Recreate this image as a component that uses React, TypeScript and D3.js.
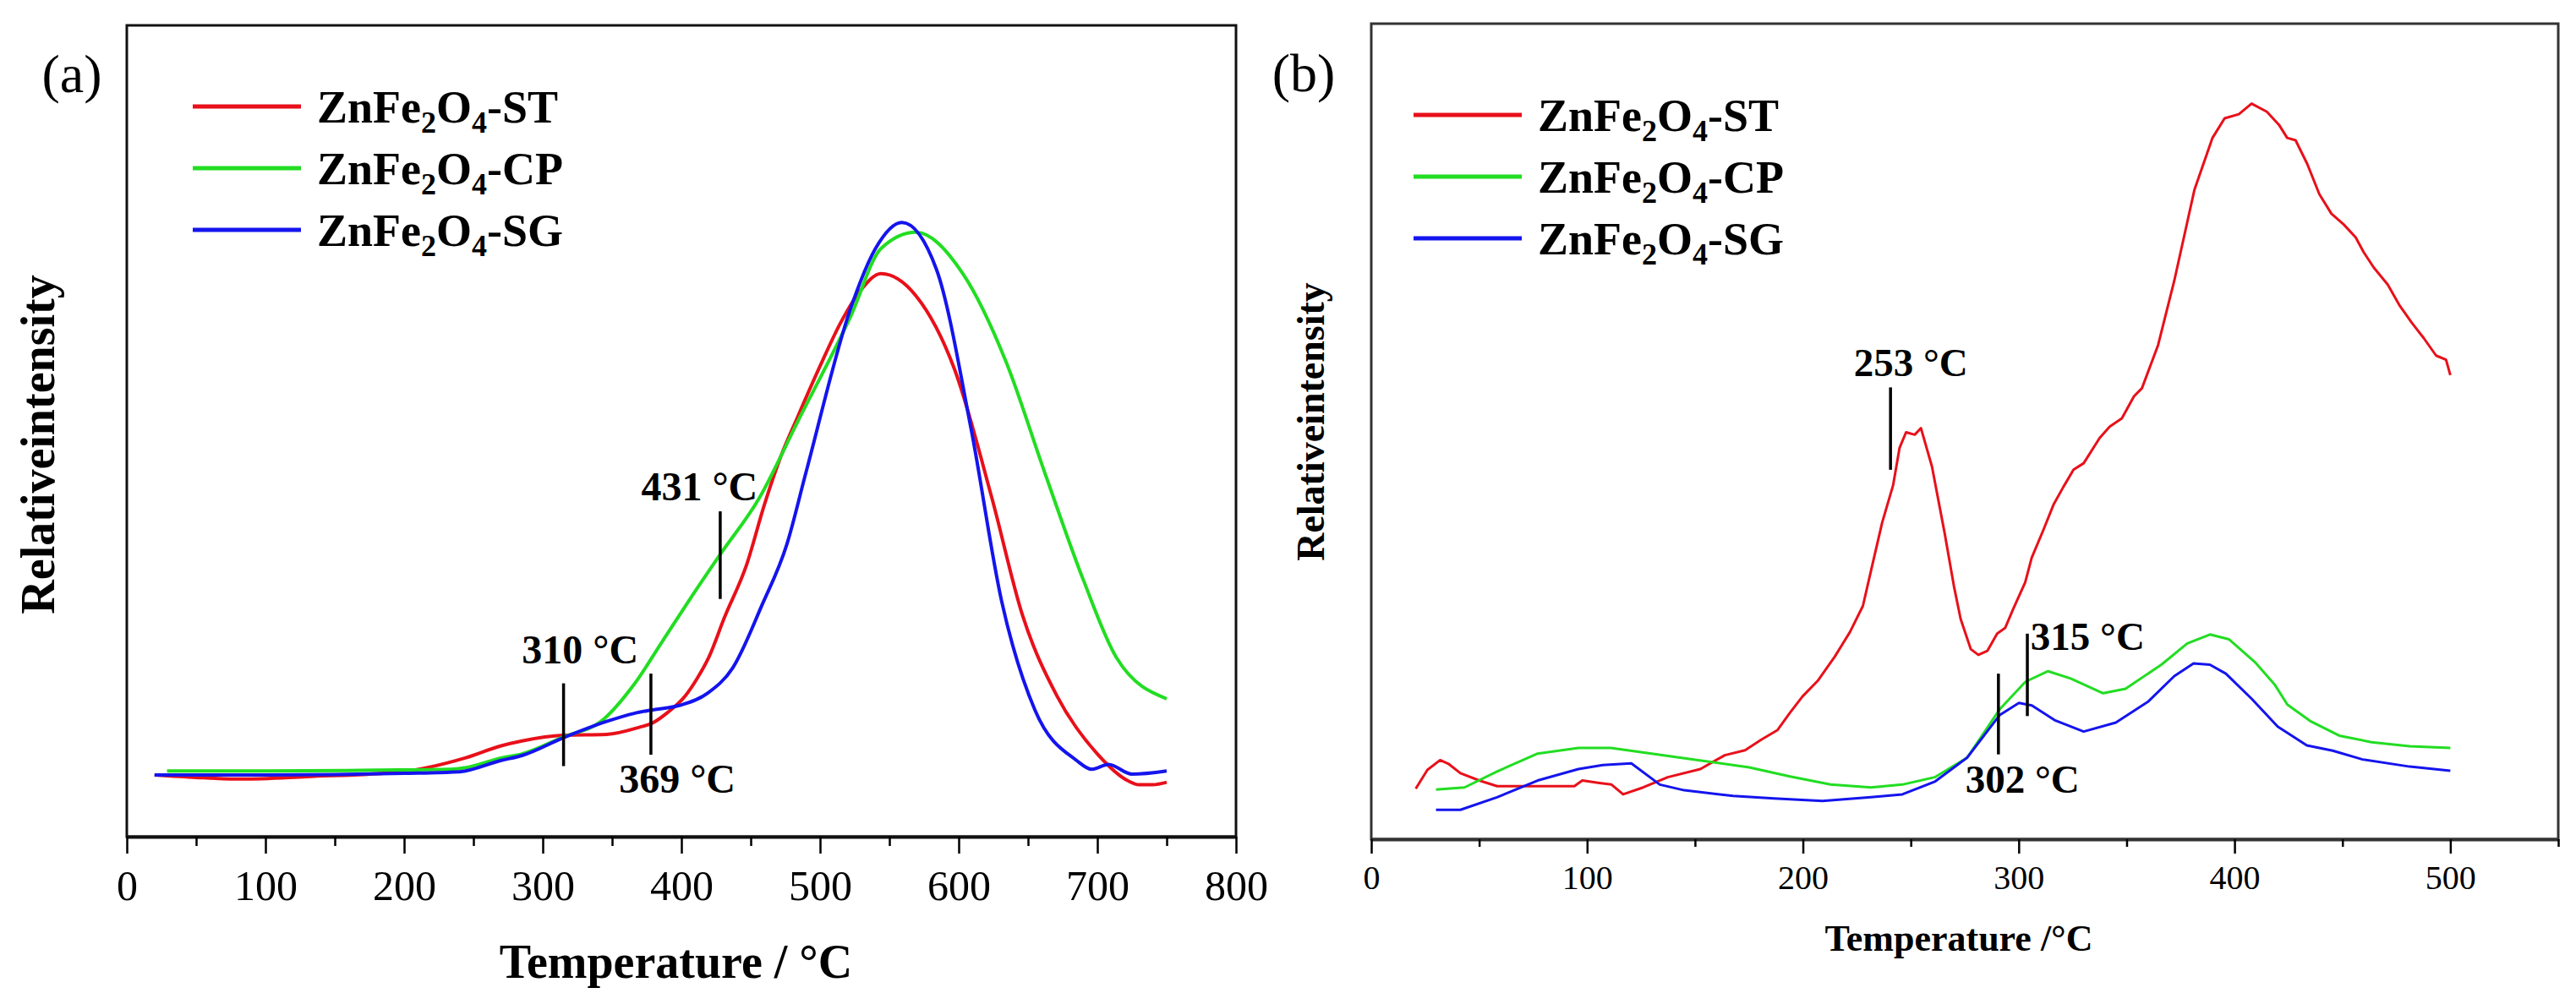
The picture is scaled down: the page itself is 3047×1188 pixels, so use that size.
import { useEffect, useRef } from 'react';
import * as d3 from 'd3';

type Pt = [number, number];

const seriesNames = ['ST', 'CP', 'SG'];
const seriesColors = ['#e8101a', '#22dd22', '#1414ee'];

// (a) temperature ticks
const aTicks = [0, 100, 200, 300, 400, 500, 600, 700, 800];
const aMinor = [50, 150, 250, 350, 450, 550, 650, 750];

const aST: Pt[] = [
  [20, 7.6], [50, 7.3], [83, 7.1], [130, 7.4], [198, 8.0], [244, 9.7], [270, 11.2], [285, 11.8],
  [315, 12.5], [346, 12.6], [370, 13.5], [379, 14.0], [390, 15.3], [403, 17.4], [411, 19.4],
  [420, 22.2], [431, 27.0], [447, 33.5], [460, 41.0], [472, 47.0], [484, 51.8], [500, 58.0],
  [515, 63.4], [530, 67.5], [544, 69.4], [569, 66.7], [597, 57.6], [624, 41.7], [646, 27.3],
  [671, 17.3], [700, 10.2], [722, 6.9], [730, 6.4], [740, 6.4], [750, 6.7],
];
const aCP: Pt[] = [
  [29, 8.1], [100, 8.1], [180, 8.2], [234, 8.3], [244, 8.5], [270, 9.7], [285, 10.2], [315, 12.3],
  [342, 14.2], [366, 18.8], [386, 24.0], [407, 29.5], [428, 34.8], [456, 41.7], [484, 51.2],
  [522, 64.1], [544, 72.5], [569, 74.5], [603, 69.4], [634, 58.6], [662, 44.9], [690, 31.6],
  [714, 22.0], [750, 17.0],
];
const aSG: Pt[] = [
  [20, 7.6], [100, 7.6], [200, 7.8], [240, 8.0], [270, 9.4], [285, 10.0], [315, 12.2], [346, 14.2],
  [366, 15.2], [378, 15.6], [399, 16.2], [419, 17.7], [437, 20.8], [458, 28.5], [476, 36.0],
  [490, 45.0], [522, 65.1], [540, 72.5], [559, 75.7], [584, 69.9], [609, 50.2], [631, 29.0],
  [655, 15.6], [685, 9.4], [696, 8.3], [708, 8.9], [725, 7.7], [750, 8.1],
];

// (a) markers: temperature, label, line from/to (intensity), label x, label baseline
const aMarks = [
  { t: 315, label: '310 °C', y1: 8.7, y2: 18.9, lx: 327, ly: 21.4 },
  { t: 378, label: '369 °C', y1: 10.1, y2: 20.1, lx: 397, ly: 5.4 },
  { t: 428, label: '431 °C', y1: 29.3, y2: 40.1, lx: 413, ly: 41.5 },
];

// (b) temperature ticks
const bTicks = [0, 100, 200, 300, 400, 500];
const bMinor = [50, 150, 250, 350, 450, 550];

const bST: Pt[] = [
  [20.6, 6.2], [26, 8.5], [31.9, 9.7], [36, 9.2], [41.3, 8.1], [50, 7.2], [58.3, 6.5], [70, 6.5],
  [94.1, 6.5], [97.8, 7.2], [105.7, 6.9], [111.3, 6.7], [116.7, 5.5], [126, 6.35], [137.4, 7.6],
  [152.5, 8.6], [163.8, 10.3], [173.2, 10.9], [180.7, 12.2], [188.3, 13.4], [194, 15.5],
  [199.8, 17.5], [206.8, 19.4], [214.8, 22.4], [221.8, 25.4], [227.8, 28.6], [231.8, 33.2],
  [236.7, 38.8], [241.8, 43.4], [244.8, 48.0], [247.8, 49.9], [251.8, 49.6], [254.7, 50.4],
  [259.8, 45.7], [265.7, 37.5], [270, 31.0], [273.1, 27.0], [277.8, 23.3], [281.3, 22.6],
  [285.5, 23.1], [290, 25.2], [293.7, 25.9], [297.4, 28.2], [303, 31.5], [306, 34.5],
  [311.4, 37.9], [316.1, 41.0], [320.7, 43.2], [325.4, 45.3], [330.1, 46.1], [337.5, 49.2],
  [342.2, 50.6], [347.8, 51.6], [353.4, 54.3], [357.1, 55.3], [364.6, 60.6], [372.1, 68.5],
  [381.4, 79.6], [389.8, 86.0], [395.4, 88.4], [402, 88.9], [407.9, 90.2], [415, 89.2],
  [420.6, 87.6], [424.4, 86.0], [428.3, 85.7], [433.7, 82.8], [439.3, 79.1], [444.9, 76.7],
  [450.5, 75.4], [456.1, 73.8], [459.8, 72.0], [464.5, 70.1], [471, 68.0], [476.6, 65.4],
  [482.2, 63.3], [487.8, 61.4], [493.4, 59.3], [498, 58.8], [500, 56.9],
];
const bCP: Pt[] = [
  [30, 6.1], [43.2, 6.35], [58.3, 8.3], [77.1, 10.5], [96, 11.2], [111, 11.2], [129.9, 10.5],
  [148.7, 9.8], [175.1, 8.8], [194, 7.7], [212.8, 6.7], [231.6, 6.35], [246.1, 6.7], [261.1, 7.6],
  [276.1, 10.0], [291.1, 15.9], [303.1, 19.3], [313.6, 20.6], [324.1, 19.7], [339.1, 17.9],
  [349.5, 18.45], [366.1, 21.4], [378.1, 24.0], [388.6, 25.1], [397.5, 24.5], [409.5, 21.7],
  [418.5, 19.0], [424.5, 16.5], [435, 14.5], [448.5, 12.7], [463.5, 11.9], [481.2, 11.4],
  [500, 11.2],
];
const bSG: Pt[] = [
  [30, 3.6], [41.3, 3.6], [58.3, 5.15], [77.1, 7.2], [96, 8.6], [107.3, 9.1], [120.5, 9.3],
  [133.7, 6.7], [145, 6.0], [167.6, 5.3], [186.5, 5.0], [209.1, 4.7], [231.6, 5.15], [246.1, 5.5],
  [261.1, 7.05], [276.1, 10.0], [291.1, 15.2], [300.1, 16.7], [306.1, 16.4], [316.6, 14.6],
  [330.1, 13.2], [345, 14.3], [360.1, 16.9], [372.1, 20.0], [381, 21.55], [388.6, 21.4],
  [396, 20.3], [408, 17.2], [420, 13.8], [433.5, 11.5], [445.5, 10.85], [459, 9.8], [481.2, 8.9],
  [500, 8.4],
];

const bMarks = [
  { t: 240.6, label: '253 °C', y1: 45.3, y2: 55.4, lx: 250, ly: 56.8, anchor: 'middle' },
  { t: 290.6, label: '302 °C', y1: 10.4, y2: 20.3, lx: 301.7, ly: 5.7, anchor: 'middle' },
  { t: 304, label: '315 °C', y1: 15.1, y2: 25.2, lx: 305.5, ly: 23.2, anchor: 'start' },
];

const FONT = '"Liberation Serif", "Times New Roman", Times, serif';

interface PanelCfg {
  box: { left: number; top: number; right: number; bottom: number };
  xMax: number;
  ticks: number[];
  minor: number[];
  series: Pt[][];
  marks: { t: number; label: string; y1: number; y2: number; lx: number; ly: number; anchor?: string }[];
  curve: d3.CurveFactory;
  lineWidth: number;
  tickFont: number;
  tickLen: number;
  minorLen: number;
  tickPad: number;
  title: string;
  titleFont: number;
  titleBase: number;
  ylabelX: number;
  ylabelY: number;
  ylabelFont: number;
  tag: string;
  tagX: number;
  tagY: number;
  legendX: number;
  legendY: number;
  markFont: number;
  frameColor: string;
}

function drawPanel(svg: d3.Selection<SVGSVGElement, unknown, null, undefined>, c: PanelCfg) {
  const g = svg.append('g');
  const x = d3.scaleLinear().domain([0, c.xMax]).range([c.box.left, c.box.right]);
  const y = d3.scaleLinear().domain([0, 100]).range([c.box.bottom, c.box.top]);

  g.append('rect')
    .attr('x', c.box.left)
    .attr('y', c.box.top)
    .attr('width', c.box.right - c.box.left)
    .attr('height', c.box.bottom - c.box.top)
    .attr('fill', 'none')
    .attr('stroke', c.frameColor)
    .attr('stroke-width', 3);

  const ax = g
    .append('g')
    .attr('transform', `translate(0,${c.box.bottom})`)
    .call(
      d3
        .axisBottom(x)
        .tickValues(c.ticks)
        .tickSize(c.tickLen)
        .tickSizeOuter(0)
        .tickPadding(c.tickPad)
        .tickFormat(d => String(d))
    );
  ax.select('.domain').attr('stroke', c.frameColor).attr('stroke-width', 4);
  ax.selectAll('.tick line').attr('stroke', '#000').attr('stroke-width', 2.5);
  ax.selectAll('.tick text')
    .attr('font-family', FONT)
    .attr('font-size', c.tickFont)
    .attr('fill', '#000');

  const mx = g
    .append('g')
    .attr('transform', `translate(0,${c.box.bottom})`)
    .call(d3.axisBottom(x).tickValues(c.minor).tickSize(c.minorLen).tickFormat(() => ''));
  mx.select('.domain').remove();
  mx.selectAll('.tick line').attr('stroke', '#000').attr('stroke-width', 2.5);

  const line = d3
    .line<Pt>()
    .x(d => x(d[0]))
    .y(d => y(d[1]))
    .curve(c.curve);

  c.series.forEach((s, i) => {
    g.append('path')
      .datum(s)
      .attr('fill', 'none')
      .attr('stroke', seriesColors[i])
      .attr('stroke-width', c.lineWidth)
      .attr('stroke-linejoin', 'round')
      .attr('d', line);
  });

  c.marks.forEach(m => {
    g.append('line')
      .attr('x1', x(m.t))
      .attr('x2', x(m.t))
      .attr('y1', y(m.y1))
      .attr('y2', y(m.y2))
      .attr('stroke', '#000')
      .attr('stroke-width', 3.5);
    g.append('text')
      .attr('x', x(m.lx))
      .attr('y', y(m.ly))
      .attr('text-anchor', m.anchor || 'middle')
      .attr('font-family', FONT)
      .attr('font-weight', 'bold')
      .attr('font-size', c.markFont)
      .text(m.label);
  });

  // legend
  seriesNames.forEach((name, i) => {
    const ly = c.legendY + i * 73;
    g.append('line')
      .attr('x1', c.legendX)
      .attr('x2', c.legendX + 128)
      .attr('y1', ly)
      .attr('y2', ly)
      .attr('stroke', seriesColors[i])
      .attr('stroke-width', 5);
    const t = g
      .append('text')
      .attr('x', c.legendX + 147)
      .attr('y', ly + 19)
      .attr('font-family', FONT)
      .attr('font-weight', 'bold')
      .attr('font-size', 54);
    t.append('tspan').text('ZnFe');
    t.append('tspan').attr('font-size', 36).attr('dy', 12).text('2');
    t.append('tspan').attr('dy', -12).text('O');
    t.append('tspan').attr('font-size', 36).attr('dy', 12).text('4');
    t.append('tspan').attr('dy', -12).text(`-${name}`);
  });

  g.append('text')
    .attr('x', (c.box.left + c.box.right) / 2 - (c.box.right - c.box.left) * 0.005)
    .attr('y', c.titleBase)
    .attr('text-anchor', 'middle')
    .attr('font-family', FONT)
    .attr('font-weight', 'bold')
    .attr('font-size', c.titleFont)
    .text(c.title);

  g.append('text')
    .attr('transform', `translate(${c.ylabelX},${c.ylabelY}) rotate(-90)`)
    .attr('text-anchor', 'middle')
    .attr('dominant-baseline', 'central')
    .attr('font-family', FONT)
    .attr('font-weight', 'bold')
    .attr('font-size', c.ylabelFont)
    .text('Relativeintensity');

  g.append('text')
    .attr('x', c.tagX)
    .attr('y', c.tagY)
    .attr('text-anchor', 'middle')
    .attr('dominant-baseline', 'central')
    .attr('font-family', FONT)
    .attr('font-size', 64)
    .text(c.tag);
}

export default function App() {
  const ref = useRef<SVGSVGElement | null>(null);

  useEffect(() => {
    if (!ref.current) return;
    const svg = d3.select(ref.current);
    svg.selectAll('*').remove();

    drawPanel(svg, {
      box: { left: 150, top: 30, right: 1462, bottom: 990 },
      xMax: 800,
      ticks: aTicks,
      minor: aMinor,
      series: [aST, aCP, aSG],
      marks: aMarks,
      curve: d3.curveMonotoneX,
      lineWidth: 4,
      tickFont: 50,
      tickLen: 20,
      minorLen: 11,
      tickPad: 19,
      title: 'Temperature / °C',
      titleFont: 56,
      titleBase: 1157,
      ylabelX: 45,
      ylabelY: 526,
      ylabelFont: 56,
      tag: '(a)',
      tagX: 85,
      tagY: 87,
      legendX: 228,
      legendY: 126,
      markFont: 48,
      frameColor: '#111',
    });

    drawPanel(svg, {
      box: { left: 1622, top: 28, right: 3026, bottom: 993 },
      xMax: 550,
      ticks: bTicks,
      minor: bMinor,
      series: [bST, bCP, bSG],
      marks: bMarks,
      curve: d3.curveLinear,
      lineWidth: 3,
      tickFont: 40,
      tickLen: 17,
      minorLen: 9,
      tickPad: 14,
      title: 'Temperature /°C',
      titleFont: 44,
      titleBase: 1125,
      ylabelX: 1550,
      ylabelY: 499,
      ylabelFont: 46,
      tag: '(b)',
      tagX: 1542,
      tagY: 86,
      legendX: 1672,
      legendY: 136,
      markFont: 47,
      frameColor: '#333',
    });
  }, []);

  return (
    <svg
      ref={ref}
      width={3047}
      height={1188}
      style={{ position: 'absolute', left: 0, top: 0, background: '#fff' }}
    />
  );
}
